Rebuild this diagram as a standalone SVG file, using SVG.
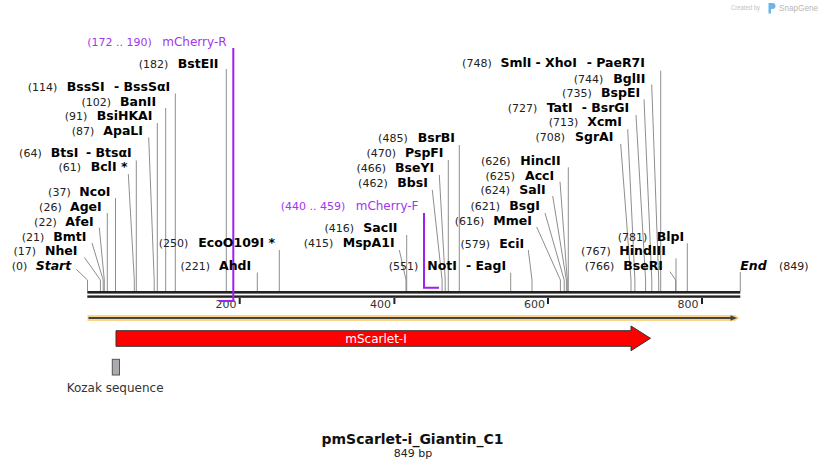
<svg xmlns="http://www.w3.org/2000/svg" width="828" height="470" viewBox="0 0 828 470">
<style>
text{font-family:"DejaVu Sans","Liberation Sans",sans-serif}
.n{font-size:11px;fill:#222}
.b{font-size:12.5px;font-weight:bold;fill:#000}
.bi{font-size:12.5px;font-weight:bold;font-style:italic;fill:#000}
.p{font-size:11px;fill:#a235ee}
.pn{font-size:12px;fill:#a235ee}
.tk{font-size:11px;fill:#333;text-anchor:end}
.e{text-anchor:end}
.l{fill:none;stroke:#8e8e8e;stroke-width:1}
.pl{fill:none;stroke:#a020f0;stroke-width:2}
.bb{fill:#222}
</style>
<rect width="828" height="470" fill="#fff"/>

<g id="watermark">
<text x="731" y="10" textLength="29" lengthAdjust="spacingAndGlyphs" style="font-family:'Liberation Sans',sans-serif;font-size:7.5px;fill:#c4c4c4">Created by</text>
<path d="M768.5,3 h4 a3,3 0 0 1 0,6 h-1.5 v4.5 h-2.5 z" fill="#6fb3e8"/>
<text x="779" y="11" textLength="39" lengthAdjust="spacingAndGlyphs" style="font-family:'Liberation Sans',sans-serif;font-size:9.5px;fill:#b8b8b8">SnapGene</text>
</g>

<g id="connectors">
<polyline class="l" points="226.3,69 226.3,291"/>
<polyline class="l" points="175.3,93.5 175.3,291"/>
<polyline class="l" points="165.7,108 165.7,291"/>
<polyline class="l" points="157.3,123 157.3,291"/>
<polyline class="l" points="148.7,137.5 154.2,280 154.2,291"/>
<polyline class="l" points="136.3,160.5 136.3,291"/>
<polyline class="l" points="128.3,174 134.3,280 134.3,291"/>
<polyline class="l" points="115.5,198 115.5,291"/>
<polyline class="l" points="107.3,213 107.3,291"/>
<polyline class="l" points="99.3,227.7 104.3,280 104.3,291"/>
<polyline class="l" points="92,243 103.2,280 103.2,291"/>
<polyline class="l" points="84.3,257.3 100.4,280 100.4,291"/>
<polyline class="l" points="76.3,269.3 87.5,280 87.5,291"/>
<polyline class="l" points="279.3,250 279.3,291"/>
<polyline class="l" points="257.3,272.5 257.3,291"/>
<polyline class="l" points="406.7,235 406.7,291"/>
<polyline class="l" points="399.3,250 406,280 406,291"/>
<polyline class="l" points="510.7,272.7 510.7,291"/>
<polyline class="l" points="432.3,190 442.1,280 442.1,291"/>
<polyline class="l" points="439.3,175 445.2,280 445.2,291"/>
<polyline class="l" points="448.3,160 448.3,291"/>
<polyline class="l" points="459.3,145 459.3,291"/>
<polyline class="l" points="528.3,250 532,280 532,291"/>
<polyline class="l" points="536.7,227 560.4,280 560.4,291"/>
<polyline class="l" points="545,213 564.2,280 564.2,291"/>
<polyline class="l" points="552.7,196 566.4,280 566.4,291"/>
<polyline class="l" points="560,181.7 567.3,280 567.3,291"/>
<polyline class="l" points="568.3,167.3 568.3,291"/>
<polyline class="l" points="620.7,144 631,280 631,291"/>
<polyline class="l" points="627.7,129.3 634.9,280 634.9,291"/>
<polyline class="l" points="636,115 645.6,280 645.6,291"/>
<polyline class="l" points="644,99.3 651.8,280 651.8,291"/>
<polyline class="l" points="651.7,84.5 658.7,280 658.7,291"/>
<polyline class="l" points="660.7,70.7 660.7,291"/>
<polyline class="l" points="687.3,243.3 687.3,291"/>
<polyline class="l" points="676,258.3 676,291"/>
<polyline class="l" points="670,271.7 675.6,280 675.6,291"/>
<polyline class="l" points="740.3,272 740.3,291"/>
</g>

<g id="backbone">
<rect class="bb" x="87.3" y="291" width="653" height="2.6"/>
<rect class="bb" x="87.3" y="295.4" width="653" height="2.4"/>
<rect class="bb" x="238.7" y="298" width="2" height="6"/>
<rect class="bb" x="393.4" y="298" width="2" height="6"/>
<rect class="bb" x="547" y="298" width="2" height="6"/>
<rect class="bb" x="701" y="298" width="2" height="6"/>
<text class="tk" x="236.6" y="308">200</text>
<text class="tk" x="391" y="308">400</text>
<text class="tk" x="545" y="308">600</text>
<text class="tk" x="698.6" y="308">800</text>
</g>

<g id="primer-mCherry-R">
<text class="p" x="87.3" y="46">(172 .. 190)</text>
<text class="pn" x="162.3" y="46">mCherry-R</text>
<polyline class="pl" points="233.3,48 233.3,301 218.7,301"/>
</g>
<g id="primer-mCherry-F">
<text class="p" x="280.7" y="210">(440 .. 459)</text>
<text class="pn" x="355.7" y="210">mCherry-F</text>
<polyline class="pl" points="424,213 424,287.7 439,287.7"/>
</g>

<g id="site-BstEII"><text class="n e" x="168.3" y="67.5">(182)</text><text class="b" x="177.7" y="67.5">BstEII</text></g>
<g id="site-BssSI"><text class="n e" x="57.3" y="91">(114)</text><text class="b" x="66.7" y="91">BssSI</text><text class="b" x="114" y="91">- BssSαI</text></g>
<g id="site-BanII"><text class="n e" x="111" y="105.5">(102)</text><text class="b" x="120" y="105.5">BanII</text></g>
<g id="site-BsiHKAI"><text class="n e" x="87.3" y="120">(91)</text><text class="b" x="96.7" y="120">BsiHKAI</text></g>
<g id="site-ApaLI"><text class="n e" x="94.3" y="135">(87)</text><text class="b" x="103.3" y="135">ApaLI</text></g>
<g id="site-BtsI"><text class="n e" x="41.7" y="157.3">(64)</text><text class="b" x="50.7" y="157.3">BtsI</text><text class="b" x="86" y="157.3">- BtsαI</text></g>
<g id="site-BclI"><text class="n e" x="81" y="171.4">(61)</text><text class="b" x="90.7" y="171.4">BclI *</text></g>
<g id="site-NcoI"><text class="n e" x="70.7" y="195.7">(37)</text><text class="b" x="79.3" y="195.7">NcoI</text></g>
<g id="site-AgeI"><text class="n e" x="61.7" y="210.7">(26)</text><text class="b" x="70" y="210.7">AgeI</text></g>
<g id="site-AfeI"><text class="n e" x="56.7" y="225.7">(22)</text><text class="b" x="65.3" y="225.7">AfeI</text></g>
<g id="site-BmtI"><text class="n e" x="44.3" y="240.7">(21)</text><text class="b" x="53.3" y="240.7">BmtI</text></g>
<g id="site-NheI"><text class="n e" x="36" y="255">(17)</text><text class="b" x="45" y="255">NheI</text></g>
<g id="site-Start"><text class="n e" x="27.3" y="270">(0)</text><text class="bi" x="35.7" y="270">Start</text></g>

<g id="site-EcoO109I"><text class="n e" x="188.3" y="246.7">(250)</text><text class="b" x="198.3" y="246.7">EcoO109I *</text></g>
<g id="site-AhdI"><text class="n e" x="210" y="270">(221)</text><text class="b" x="219" y="270">AhdI</text></g>
<g id="site-SacII"><text class="n e" x="354" y="232.3">(416)</text><text class="b" x="363.3" y="232.3">SacII</text></g>
<g id="site-MspA1I"><text class="n e" x="333.3" y="247.3">(415)</text><text class="b" x="342.7" y="247.3">MspA1I</text></g>
<g id="site-NotI"><text class="n e" x="418.3" y="270">(551)</text><text class="b" x="427.3" y="270">NotI</text><text class="b" x="466" y="270">- EagI</text></g>
<g id="site-BbsI"><text class="n e" x="387.7" y="186.7">(462)</text><text class="b" x="397.3" y="186.7">BbsI</text></g>
<g id="site-BseYI"><text class="n e" x="386" y="172.3">(466)</text><text class="b" x="395" y="172.3">BseYI</text></g>
<g id="site-PspFI"><text class="n e" x="396" y="157.3">(470)</text><text class="b" x="405" y="157.3">PspFI</text></g>
<g id="site-BsrBI"><text class="n e" x="407.7" y="142.3">(485)</text><text class="b" x="417.7" y="142.3">BsrBI</text></g>
<g id="site-EciI"><text class="n e" x="490" y="247.7">(579)</text><text class="b" x="499.3" y="247.7">EciI</text></g>
<g id="site-MmeI"><text class="n e" x="484.3" y="225">(616)</text><text class="b" x="493.3" y="225">MmeI</text></g>
<g id="site-BsgI"><text class="n e" x="500" y="210">(621)</text><text class="b" x="509.3" y="210">BsgI</text></g>
<g id="site-SalI"><text class="n e" x="510" y="194">(624)</text><text class="b" x="519.3" y="194">SalI</text></g>
<g id="site-AccI"><text class="n e" x="515" y="179.5">(625)</text><text class="b" x="525" y="179.5">AccI</text></g>
<g id="site-HincII"><text class="n e" x="510.5" y="164.5">(626)</text><text class="b" x="520.3" y="164.5">HincII</text></g>

<g id="site-SgrAI"><text class="n e" x="565" y="140.7">(708)</text><text class="b" x="575" y="140.7">SgrAI</text></g>
<g id="site-XcmI"><text class="n e" x="578.3" y="126">(713)</text><text class="b" x="587.3" y="126">XcmI</text></g>
<g id="site-TatI"><text class="n e" x="537.3" y="111.7">(727)</text><text class="b" x="546.7" y="111.7">TatI</text><text class="b" x="581.7" y="111.7">- BsrGI</text></g>
<g id="site-BspEI"><text class="n e" x="591.7" y="96.7">(735)</text><text class="b" x="601" y="96.7">BspEI</text></g>
<g id="site-BglII"><text class="n e" x="603.3" y="82.7">(744)</text><text class="b" x="613.3" y="82.7">BglII</text></g>
<g id="site-SmlI"><text class="n e" x="491.7" y="66.7">(748)</text><text class="b" x="500.5" y="66.7">SmlI</text><text class="b" x="535.5" y="66.7">- XhoI</text><text class="b" x="586.7" y="66.7">- PaeR7I</text></g>
<g id="site-BlpI"><text class="n e" x="647.3" y="240.7">(781)</text><text class="b" x="656.7" y="240.7">BlpI</text></g>
<g id="site-HindIII"><text class="n e" x="610.7" y="255">(767)</text><text class="b" x="619.3" y="255">HindIII</text></g>
<g id="site-BseRI"><text class="n e" x="614.3" y="270">(766)</text><text class="b" x="623.3" y="270">BseRI</text></g>
<g id="site-End"><text class="bi" x="740.3" y="270">End</text><text class="n" x="779" y="270">(849)</text></g>

<g id="orf-arrow">
<polygon points="87.5,315 735,315 739.5,318 735,321 87.5,321" fill="#fcd588"/>
<line x1="88.5" y1="318" x2="732" y2="318" stroke="#444" stroke-width="2"/>
<polygon points="730.5,315.3 737.2,318 730.5,320.7" fill="#444"/>
</g>

<g id="feature-mScarlet-I">
<polygon points="116,330.7 631,330.7 631,326 650.5,338.3 631,350.7 631,346.3 116,346.3" fill="#ff0000" stroke="#333" stroke-width="1"/>
<text x="376" y="342.5" text-anchor="middle" style="font-size:12px;fill:#fff">mScarlet-I</text>
</g>

<g id="feature-Kozak">
<rect x="112.3" y="359.3" width="7.2" height="15.7" fill="#a8acb0" stroke="#555" stroke-width="1"/>
<text x="66.7" y="392" style="font-size:12px;fill:#333">Kozak sequence</text>
</g>

<g id="title">
<text x="412.5" y="444.3" text-anchor="middle" style="font-size:14px;font-weight:bold;fill:#111">pmScarlet-i_Giantin_C1</text>
<text x="413" y="457" text-anchor="middle" style="font-size:11px;fill:#222">849 bp</text>
</g>
</svg>
